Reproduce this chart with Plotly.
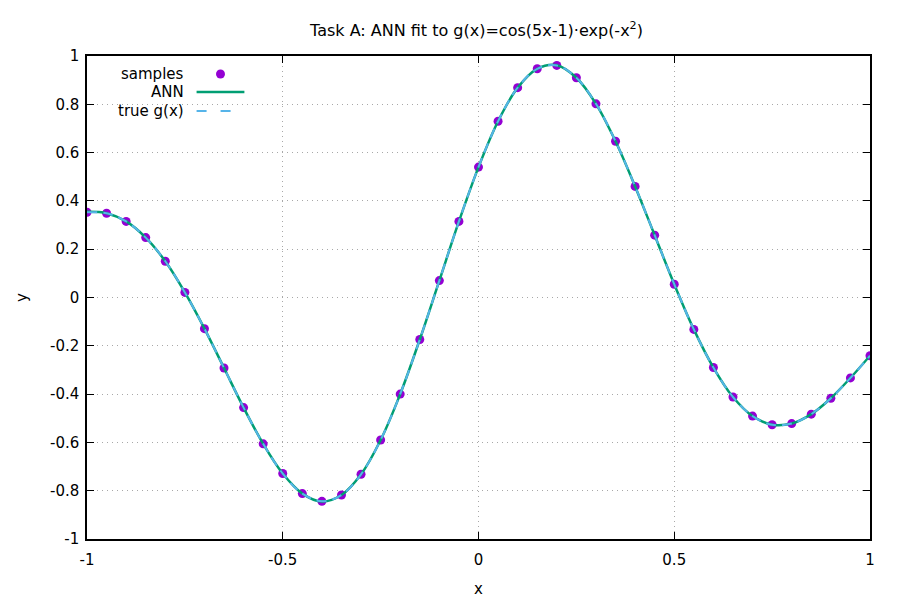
import plotly.graph_objects as go

x_samples = [-1.0, -0.95, -0.9, -0.85, -0.8, -0.75, -0.7, -0.65, -0.6, -0.55, -0.5,
             -0.45, -0.4, -0.35, -0.3, -0.25, -0.2, -0.15, -0.1, -0.05, 0.0,
             0.05, 0.1, 0.15, 0.2, 0.25, 0.3, 0.35, 0.4, 0.45, 0.5,
             0.55, 0.6, 0.65, 0.7, 0.75, 0.8, 0.85, 0.9, 0.95, 1.0]
y_samples = [0.353, 0.349, 0.315, 0.248, 0.150, 0.021, -0.129, -0.292, -0.456, -0.606, -0.729,
             -0.812, -0.844, -0.818, -0.732, -0.590, -0.400, -0.174, 0.070, 0.315, 0.540,
             0.730, 0.869, 0.947, 0.961, 0.910, 0.802, 0.647, 0.460, 0.258, 0.055,
             -0.132, -0.290, -0.412, -0.491, -0.527, -0.522, -0.483, -0.417, -0.333, -0.241]
y_ann = [0.355, 0.349, 0.315, 0.248, 0.150, 0.021, -0.129, -0.292, -0.456, -0.606, -0.729,
         -0.812, -0.845, -0.818, -0.732, -0.590, -0.400, -0.174, 0.070, 0.315, 0.540,
         0.730, 0.869, 0.947, 0.962, 0.910, 0.802, 0.647, 0.460, 0.258, 0.055,
         -0.132, -0.290, -0.412, -0.491, -0.527, -0.522, -0.483, -0.417, -0.333, -0.241]
y_true = y_samples

x_ticks = [-1, -0.5, 0, 0.5, 1]
x_tick_labels = ["-1", "-0.5", "0", "0.5", "1"]
y_ticks = [-1, -0.8, -0.6, -0.4, -0.2, 0, 0.2, 0.4, 0.6, 0.8, 1]
y_tick_labels = ["-1", "-0.8", "-0.6", "-0.4", "-0.2", "0", "0.2", "0.4", "0.6", "0.8", "1"]

legend_labels = ["samples", "ANN", "true g(x)"]

FONT = "DejaVu Sans"
FS = 15
C_SAMPLES = "#9400d3"
C_ANN = "#009e73"
C_TRUE = "#56b4e9"

fig = go.Figure()
fig.add_trace(go.Scatter(x=x_samples, y=y_samples, mode="markers", name=legend_labels[0],
                         marker=dict(color=C_SAMPLES, size=9, line=dict(width=0))))
fig.add_trace(go.Scatter(x=x_samples, y=y_ann, mode="lines", name=legend_labels[1],
                         line=dict(color=C_ANN, width=2.5, shape="spline")))
fig.add_trace(go.Scatter(x=x_samples, y=y_true, mode="lines", name=legend_labels[2],
                         line=dict(color=C_TRUE, width=2, dash="10px,6px", shape="spline")))

axis_common = dict(showline=True, linecolor="black", linewidth=1.5, mirror="ticks",
                   ticks="inside", ticklen=7, tickcolor="black", tickwidth=1,
                   showgrid=True, gridcolor="#a8a8a8", griddash="1px,4px", gridwidth=1,
                   zeroline=False, tickfont=dict(family=FONT, size=FS, color="black"))

# gnuplot-style key: right-aligned labels with the sample to their right
W, H = 786.0, 483.0
label_x = 99 / W
key_x0, key_x1 = 110 / W, 158 / W
key_rows = [1 - 18 / H, 1 - 36 / H, 1 - 55 / H]
annotations = []
shapes = []
for lbl, yy in zip(legend_labels, key_rows):
    annotations.append(dict(text=lbl, x=label_x, y=yy, xref="paper", yref="paper",
                            xanchor="right", yanchor="middle", showarrow=False,
                            font=dict(family=FONT, size=FS, color="black")))
rx, ry = 4.5 / W, 4.5 / H
cx = (key_x0 + key_x1) / 2
shapes.append(dict(type="circle", xref="paper", yref="paper",
                   x0=cx - rx, x1=cx + rx, y0=key_rows[0] - ry, y1=key_rows[0] + ry,
                   fillcolor=C_SAMPLES, line=dict(width=0)))
shapes.append(dict(type="line", xref="paper", yref="paper",
                   x0=key_x0, x1=key_x1, y0=key_rows[1], y1=key_rows[1],
                   line=dict(color=C_ANN, width=2.5)))
shapes.append(dict(type="line", xref="paper", yref="paper",
                   x0=key_x0, x1=key_x1, y0=key_rows[2], y1=key_rows[2],
                   line=dict(color=C_TRUE, width=2, dash="10px,14px")))

fig.update_layout(
    width=900, height=600,
    paper_bgcolor="white", plot_bgcolor="white",
    margin=dict(l=76, r=38, t=48, b=69),
    font=dict(family=FONT, size=FS, color="black"),
    title=dict(text="Task A: ANN fit to g(x)=cos(5x-1)·exp(-x<sup>2</sup>)",
               x=(476.5 - 8) / 900, xanchor="center", y=1 - 22 / 600, yanchor="middle",
               font=dict(family=FONT, size=16)),
    xaxis=dict(range=[-1, 1], tickvals=x_ticks, ticktext=x_tick_labels,
               ticklabelstandoff=6,
               title=dict(text="x", standoff=16, font=dict(family=FONT, size=FS)),
               **axis_common),
    yaxis=dict(range=[-1, 1], tickvals=y_ticks, ticktext=y_tick_labels,
               ticklabelstandoff=3,
               title=dict(text="y", standoff=19, font=dict(family=FONT, size=FS)),
               **axis_common),
    showlegend=False,
    annotations=annotations,
    shapes=shapes,
)

fig.write_html("out.html")
